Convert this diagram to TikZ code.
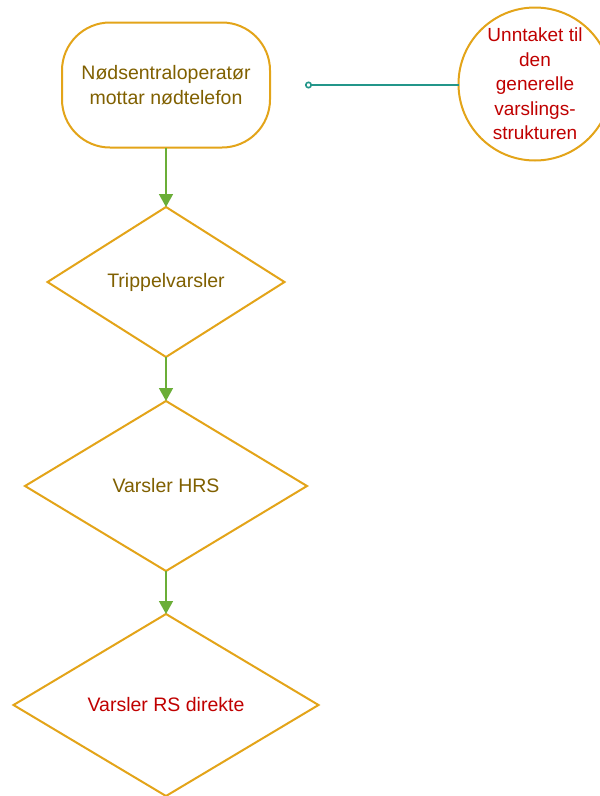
\documentclass[tikz,border=0pt]{standalone}
\usepackage{fontspec}
\setmainfont{Liberation Sans}
\usetikzlibrary{shapes.geometric,arrows.meta}
\definecolor{gold}{RGB}{227,164,25}
\definecolor{olive}{RGB}{128,96,0}
\definecolor{alertred}{RGB}{192,0,0}
\definecolor{flowgreen}{RGB}{107,174,56}
\definecolor{teal}{RGB}{35,150,138}
\tikzset{
  x=1pt, y=-1pt,
  boxline/.style={draw=gold, line width=2pt, fill=white, inner sep=0pt, outer sep=0pt},
  terminal/.style={boxline, rectangle, rounded corners=48pt, align=center,
    font=\fontsize{19.5}{25}\selectfont, text=olive},
  decision/.style={boxline, diamond, font=\fontsize{19.5}{25}\selectfont},
  note/.style={boxline, circle, align=center, text=alertred,
    font=\fontsize{19}{24.5}\selectfont},
  flow/.style={draw=flowgreen, line width=1.6pt, -{Triangle[width=14pt,length=13pt]}},
  link/.style={draw=teal, line width=1.6pt, {Circle[open,length=7pt,width=7pt,line width=1.6pt]}-},
}
\begin{document}
\begin{tikzpicture}
\useasboundingbox (0,0) rectangle (600,796);

\node[terminal, minimum width=208pt, minimum height=125pt] (start) at (166,85)
  {Nødsentraloperatør\\mottar nødtelefon};

\node[note, minimum size=153pt] (except) at (535,84)
  {Unntaket til\\den\\generelle\\varslings-\\strukturen};

\node[decision, text=olive, minimum width=237pt, minimum height=150pt] (triple) at (166,282)
  {Trippelvarsler};
\node[decision, text=olive, minimum width=282pt, minimum height=170pt] (hrs) at (166,486)
  {Varsler HRS};
\node[decision, text=alertred, minimum width=305pt, minimum height=182pt] (rs) at (166,705)
  {Varsler RS direkte};

\coordinate (linkend) at (305,85);
\draw[link] (linkend) -- (except.west |- linkend);

\draw[flow] (start.south) -- (triple.north);
\draw[flow] (triple.south) -- (hrs.north);
\draw[flow] (hrs.south) -- (rs.north);
\end{tikzpicture}
\end{document}
